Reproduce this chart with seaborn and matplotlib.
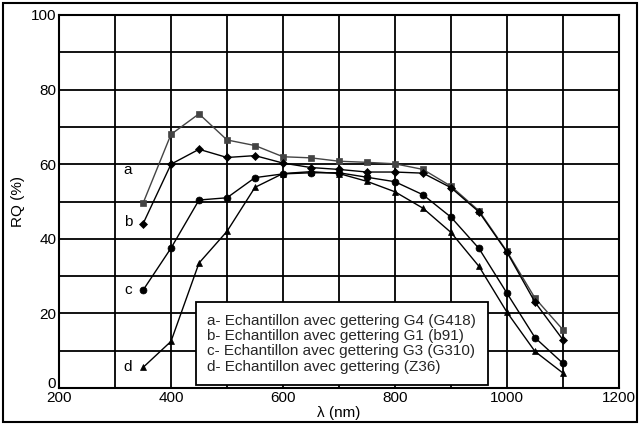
import matplotlib
matplotlib.use("Agg")
import matplotlib.pyplot as plt
import matplotlib.transforms as mtransforms
import seaborn as sns
import pandas as pd
from matplotlib.lines import Line2D
from matplotlib.patches import Rectangle

wavelength = [350, 400, 450, 500, 550, 600, 650, 700, 750, 800, 850, 900, 950, 1000, 1050, 1100]
rq_a = [49.5, 68, 73.5, 66.5, 65, 62, 61.7, 60.8, 60.5, 60.1, 58.6, 54.1, 47.5, 36.6, 24.1, 15.6]
rq_b = [44, 60, 64, 61.8, 62.3, 60.3, 59.1, 58.6, 57.9, 57.9, 57.6, 53.7, 47.2, 36.4, 23, 12.9]
rq_c = [26.2, 37.5, 50.4, 51, 56.4, 57.4, 57.7, 57.7, 56.5, 55.3, 51.8, 45.8, 37.4, 25.4, 13.5, 6.6]
rq_d = [5.5, 12.5, 33.5, 42, 53.8, 57.5, 58, 57.5, 55.4, 52.6, 48.2, 41.7, 32.6, 20.3, 9.8, 4]
series_names = ["a", "b", "c", "d"]
legend_labels = [
    "a- Echantillon avec gettering G4 (G418)",
    "b- Echantillon avec gettering G1 (b91)",
    "c- Echantillon avec gettering G3 (G310)",
    "d- Echantillon avec gettering (Z36)",
]
curve_tag_y = [58.5, 44.5, 26.3, 5.6]
x_ticks = [200, 400, 600, 800, 1000, 1200]
y_ticks = [0, 20, 40, 60, 80, 100]

sns.set_theme(style="white")
plt.rcParams["font.family"] = ["Liberation Sans", "DejaVu Sans"]

fig = plt.figure(figsize=(6.4, 4.25), dpi=100)
ax = fig.add_axes([59/640, 1-388/425, 560/640, 373/425])

markers = ["s", "D", "o", "^"]
colors = ["#444444", "black", "black", "black"]
msizes = [4, 4, 5, 5]
for vals, m, c, ms in zip([rq_a, rq_b, rq_c, rq_d], markers, colors, msizes):
    df = pd.DataFrame({"x": wavelength, "y": vals})
    sns.lineplot(data=df, x="x", y="y", ax=ax, color=c, marker=m,
                 markersize=ms, linewidth=1.0, markeredgecolor=c,
                 markeredgewidth=0.5, legend=False)

ax.set_xlim(200, 1200)
ax.set_ylim(0, 100)
ax.set_xticks(x_ticks)
ax.set_yticks(y_ticks)
ax.set_xticks(range(200, 1201, 100), minor=True)
ax.set_yticks(range(0, 101, 10), minor=True)
ax.grid(True, which="both", color="black", linewidth=1.3)
ax.tick_params(which="both", length=0, labelsize=11, colors="black", pad=2)
for s in ax.spines.values():
    s.set_color("black")
    s.set_linewidth(1.5)
ax.set_xlabel("λ (nm)", fontsize=11, color="black", labelpad=1)
ax.set_ylabel("RQ (%)", fontsize=11, color="black", labelpad=4)

fig.canvas.draw()
zero_lbl = ax.get_yticklabels()[0]
zero_lbl.set_transform(zero_lbl.get_transform() +
                       mtransforms.ScaledTranslation(0, 6/100, fig.dpi_scale_trans))

for name, yy in zip(series_names, curve_tag_y):
    ax.text(323, yy, name, fontsize=11, ha="center", va="center", color="black")

handles = [Line2D([], [], linestyle="none") for _ in legend_labels]
leg = ax.legend(handles, legend_labels, loc="lower left",
                bbox_to_anchor=((196-59)/560, 3/373), fontsize=11,
                handlelength=0, handletextpad=0, labelspacing=0.08,
                borderpad=0.75, fancybox=False, framealpha=1,
                edgecolor="black", borderaxespad=0)
leg.get_frame().set_linewidth(1.3)
leg.set_zorder(5)

fig.patches.append(Rectangle((3/640, 3/425), 634/640, 419/425, transform=fig.transFigure,
                             fill=False, edgecolor="black", linewidth=1.5))

fig.savefig("out.png", dpi=100, facecolor="white")
